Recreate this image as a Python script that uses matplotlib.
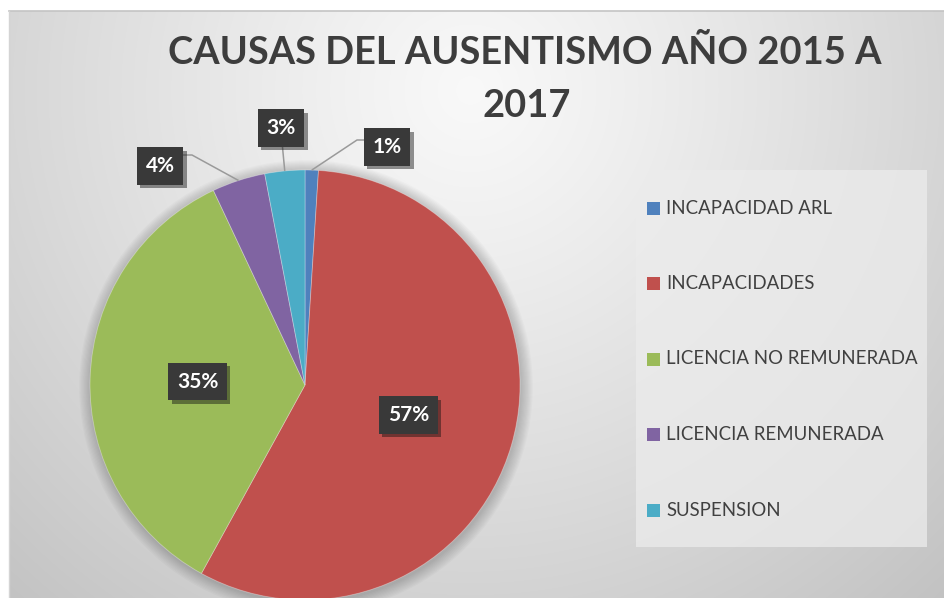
import numpy as np
import matplotlib
matplotlib.use("Agg")
import matplotlib.pyplot as plt
from matplotlib import patheffects as pe
from matplotlib.patches import Rectangle, Circle

# ---------------- data ----------------
categories = ["INCAPACIDAD ARL", "INCAPACIDADES", "LICENCIA NO REMUNERADA",
              "LICENCIA REMUNERADA", "SUSPENSION"]
values = [1, 57, 35, 4, 3]
pct_labels = ["1%", "57%", "35%", "4%", "3%"]
colors = ["#4F81BD", "#C0504D", "#9BBB59", "#8064A2", "#4BACC6"]
title_lines = ["CAUSAS DEL AUSENTISMO AÑO 2015 A", "2017"]

W, H = 944, 598
FONT = ["Lato", "DejaVu Sans"]
plt.rcParams["font.family"] = FONT

fig = plt.figure(figsize=(W / 100, H / 100), dpi=100)
ax = fig.add_axes([0, 0, 1, 1])


def Y(y):
    return H - y


# ---------------- background ----------------
yy, xx = np.mgrid[0:H, 0:W]
d = np.hypot(xx - 470, yy - 90)
g = 0.975 - 0.215 * np.clip(d / 700.0, 0, 1) ** 1.15
img = np.dstack([g, g, g])
img[:11, :, :] = 1.0
img[:, :9, :] = 1.0
ax.imshow(img, extent=(0, W, 0, H), origin="upper", aspect="auto",
          interpolation="bilinear", zorder=0)
ax.plot([9, W], [Y(11), Y(11)], color="#c4c4c4", lw=1.2, zorder=0.5)
ax.plot([9, 9], [Y(11), 0], color="#d4d4d4", lw=1.0, zorder=0.5)

# ---------------- pie ----------------
cx, cy, R = 305, 385, 215
for k in range(10):
    ax.add_patch(Circle((cx + 1, Y(cy) - 2), R + 1 + k * 1.2, color="black",
                        alpha=0.018, lw=0, zorder=1))
wedges, _ = ax.pie(values, colors=colors, startangle=90, counterclock=False,
                   center=(cx, Y(cy)), radius=R,
                   wedgeprops=dict(linewidth=0.6, edgecolor=(1, 1, 1, 0.35)))
for w in wedges:
    w.set_zorder(2)

ax.set_xlim(0, W)
ax.set_ylim(0, H)
ax.set_aspect("auto")
ax.axis("off")

label_kw = dict(color="white", fontsize=15, fontweight="bold", ha="center",
                va="center", zorder=6, family=FONT,
                bbox=dict(boxstyle="square,pad=0.42", facecolor="#393939",
                          edgecolor="none"))


def styled(t):
    t.get_bbox_patch().set_path_effects(
        [pe.SimplePatchShadow(offset=(2.5, -2.5), alpha=0.45), pe.Normal()])


def mid_point(w, frac):
    th = np.deg2rad((w.theta1 + w.theta2) / 2)
    return (w.center[0] + frac * w.r * np.cos(th),
            w.center[1] + frac * w.r * np.sin(th))

# outside label boxes and their leader line bends (pixel layout)
outside = {
    0: ((387, 147), [(365, 140), (357, 140)]),
    4: ((281, 128), [(282, 142)]),
    3: ((160, 166), [(183, 155), (192, 155)]),
}

for i, (w, lab) in enumerate(zip(wedges, pct_labels)):
    if i in outside:
        (bx, by), path = outside[i]
        ex, ey = mid_point(w, 1.0)
        xs = [p[0] for p in path] + [ex]
        ys = [Y(p[1]) for p in path] + [ey]
        ax.plot(xs, ys, color="#9a9a9a", lw=1.1, zorder=3,
                solid_capstyle="butt")
        t = ax.text(bx, Y(by), lab, **label_kw)
    else:
        px, py = mid_point(w, 0.5)
        t = ax.text(px, py, lab, **label_kw)
    styled(t)

# ---------------- title ----------------
fig.canvas.draw()
renderer = fig.canvas.get_renderer()


def fit_width(t, target):
    for _ in range(3):
        bb = t.get_window_extent(renderer)
        t.set_fontsize(t.get_fontsize() * target / bb.width)


t1 = ax.text(525, Y(52), title_lines[0], ha="center", va="center",
             fontsize=28, fontweight="bold", color="#3d3d3d", zorder=6)
fit_width(t1, 716)
ax.text(527, Y(106), title_lines[1], ha="center", va="center",
        fontsize=t1.get_fontsize(), fontweight="bold", color="#3d3d3d",
        zorder=6)

# ---------------- legend ----------------
lx0, ly0, lx1, ly1 = 636, 170, 927, 547
ax.add_patch(Rectangle((lx0, Y(ly1)), lx1 - lx0, ly1 - ly0,
                       facecolor="#ececec", edgecolor="none", alpha=0.75,
                       zorder=3))
row0, step = 208, 75.5
texts = []
for i, (cat, col) in enumerate(zip(categories, colors)):
    ry = row0 + i * step
    ax.add_patch(Rectangle((647, Y(ry) - 6.5), 13, 13, facecolor=col,
                           edgecolor="none", zorder=4))
    texts.append(ax.text(666, Y(ry), cat, ha="left", va="center",
                         fontsize=12, color="#404040", zorder=5))
fit_width(texts[2], 251)
for t in texts:
    t.set_fontsize(texts[2].get_fontsize())

fig.savefig("out.png", dpi=100)
